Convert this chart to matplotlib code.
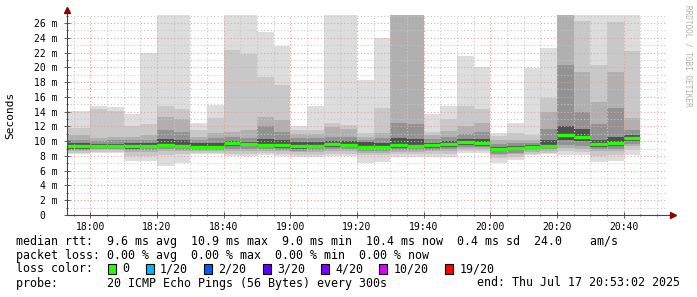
import datetime as dt
import matplotlib
matplotlib.use("Agg")
import matplotlib.pyplot as plt
import matplotlib.dates as mdates
from matplotlib.ticker import MultipleLocator
from matplotlib.patches import Rectangle

# 5 minute slots (start time), last one ends at 20:45
slots = ["17:50", "18:00", "18:05", "18:10", "18:15", "18:20", "18:25", "18:30",
         "18:35", "18:40", "18:45", "18:50", "18:55", "19:00", "19:05", "19:10",
         "19:15", "19:20", "19:25", "19:30", "19:35", "19:40", "19:45", "19:50",
         "19:55", "20:00", "20:05", "20:10", "20:15", "20:20", "20:25", "20:30",
         "20:35", "20:40"]
last_end = "20:45"

# median rtt per slot (ms)
median = [9.30, 9.30, 9.30, 9.35, 9.39, 9.48, 9.39, 9.25, 9.25, 9.70, 9.61, 9.52,
          9.43, 9.39, 9.39, 9.61, 9.52, 9.25, 9.25, 9.43, 9.39, 9.43, 9.57, 9.88,
          9.75, 8.98, 9.07, 9.16, 9.39, 10.83, 10.60, 9.61, 9.70, 10.38]

p20 = [14.1, 14.8, 14.6, 13.7, 22.0, 30, 30, 12.5, 14.9, 30, 30, 24.8, 22.9, 12.0, 14.8, 30, 30,
       18.3, 23.9, 30, 30, 13.7, 14.8, 21.5, 20.1, 11.1, 12.5, 19.95, 22.65, 30, 30, 30, 30, 30]
p19 = [11.8, 14.4, 14.1, 12.0, 12.3, 14.7, 14.4, 11.5, 13.2, 22.3, 21.8, 18.7, 17.6, 11.5, 11.5, 12.4, 12.2,
       11.1, 14.5, 30, 30, 11.3, 13.0, 14.8, 14.3, 10.7, 11.1, 10.8, 15.8, 30, 26.3, 20.3, 26.1, 22.2]
p17 = [10.8, 10.4, 10.6, 10.5, 10.8, 13.3, 13.0, 10.6, 11.1, 11.3, 11.5, 13.3, 12.9, 11.0, 10.9, 11.9, 11.6,
       10.6, 11.1, 30, 30, 10.8, 11.4, 12.0, 12.5, 10.1, 10.2, 10.2, 13.9, 30, 19.3, 15.3, 19.4, 13.1]
p15 = [10.15, 10.0, 10.1, 10.1, 10.2, 11.5, 11.3, 10.1, 10.4, 10.5, 10.4, 12.0, 11.2, 10.4, 10.4, 10.6, 10.6,
       10.2, 10.4, 12.5, 12.3, 10.3, 10.6, 11.0, 11.2, 9.6, 9.7, 9.8, 11.6, 20.3, 14.0, 12.3, 14.5, 11.5]
p12 = [9.7, 9.6, 9.65, 9.7, 9.8, 10.3, 10.2, 9.7, 9.8, 10.0, 9.9, 10.3, 10.2, 9.9, 9.9, 10.0, 10.0,
       9.85, 9.8, 10.4, 10.3, 9.8, 10.0, 10.3, 10.3, 9.25, 9.35, 9.45, 10.2, 12.0, 11.6, 10.2, 10.5, 10.8]
p9 = [9.0, 9.05, 9.05, 9.0, 9.1, 9.2, 9.1, 8.95, 8.95, 9.3, 9.3, 9.2, 9.1, 9.0, 9.05, 9.2, 9.2,
      8.95, 8.95, 9.1, 9.1, 9.1, 9.25, 9.5, 9.4, 8.6, 8.75, 8.95, 9.1, 10.2, 10.0, 9.2, 9.3, 10.0]
p6 = [8.85, 8.9, 8.9, 8.8, 8.8, 8.9, 8.85, 8.8, 8.8, 8.9, 8.9, 8.9, 8.85, 8.7, 8.75, 8.95, 8.95,
      8.7, 8.7, 8.8, 8.8, 8.85, 9.0, 9.2, 9.15, 8.3, 8.45, 8.75, 8.9, 9.5, 9.4, 8.9, 9.0, 9.6]
p4 = [8.7, 8.75, 8.75, 8.5, 8.5, 8.6, 8.6, 8.65, 8.65, 8.6, 8.6, 8.7, 8.6, 8.5, 8.5, 8.6, 8.6,
      8.4, 8.4, 8.5, 8.5, 8.6, 8.7, 9.0, 8.9, 8.1, 8.2, 8.55, 8.7, 9.1, 9.0, 8.6, 8.7, 9.3]
p2 = [8.45, 8.55, 8.55, 8.0, 8.0, 8.1, 8.2, 8.45, 8.45, 8.2, 8.2, 8.4, 8.3, 8.1, 8.1, 8.3, 8.3,
      8.1, 8.1, 8.2, 8.2, 8.2, 8.3, 8.7, 8.6, 7.7, 7.9, 8.3, 8.45, 8.6, 8.5, 8.0, 8.1, 8.8]
p1 = [8.25, 8.4, 8.35, 7.35, 7.35, 6.7, 7.0, 8.25, 8.25, 7.95, 8.0, 8.1, 7.95, 7.8, 7.85, 8.05, 8.05,
      7.0, 7.2, 7.9, 7.9, 7.8, 7.8, 8.4, 8.35, 7.08, 7.5, 8.1, 8.25, 8.1, 8.1, 7.2, 7.3, 8.1]

ytick_labels = ["0  ", "2 m", "4 m", "6 m", "8 m", "10 m", "12 m", "14 m",
                "16 m", "18 m", "20 m", "22 m", "24 m", "26 m"]

loss_labels = ["0", "1/20", "2/20", "3/20", "4/20", "10/20", "19/20"]
loss_colors = ["#26ff00", "#00b8ff", "#0059ff", "#5e00ff", "#7e00ff", "#dd00ff", "#ff0000"]

stats_lines = [
    "median rtt:  9.6 ms avg  10.9 ms max  9.0 ms min  10.4 ms now  0.4 ms sd  24.0    am/s",
    "packet loss: 0.00 % avg  0.00 % max  0.00 % min  0.00 % now",
    "loss color:",
    "probe:       20 ICMP Echo Pings (56 Bytes) every 300s",
]
end_text = "end: Thu Jul 17 20:53:02 2025"
t_end = dt.datetime(2025, 7, 17, 20, 53, 2)

MONO = "DejaVu Sans Mono"
plt.rcParams["font.family"] = MONO

day = dt.datetime(2025, 7, 17)
def hm(s):
    h, m = s.split(":")
    return day + dt.timedelta(hours=int(h), minutes=int(m))

x0 = mdates.date2num([hm(s) for s in slots])
x1 = mdates.date2num([hm(s) for s in slots[1:]] + [hm(last_end)])
w = x1 - x0

W, H = 697, 297
fig = plt.figure(figsize=(W / 100, H / 100), dpi=100)
ax = fig.add_axes([67 / W, 1 - 215 / H, 600 / W, 200 / H])

# smoke: nested bands between pings, lighter outside
bands = [(p1, p20, "#dddddd"), (p2, p19, "#c8c8c8"), (p4, p17, "#b0b0b0"),
         (p6, p15, "#929292"), (p9, p12, "#505050")]
for lo, hi, col in bands:
    ax.bar(x0, [h - l for l, h in zip(lo, hi)], width=w, bottom=lo, align="edge",
           color=col, linewidth=0, zorder=1)

ax.hlines(median, x0, x1, colors=loss_colors[0], linewidth=2.4, zorder=4)

ax.set_xlim(mdates.date2num(t_end - dt.timedelta(hours=3)), mdates.date2num(t_end))
ax.set_ylim(0, 27.08)

ax.xaxis.set_major_locator(mdates.MinuteLocator(byminute=[0, 20, 40]))
ax.xaxis.set_minor_locator(mdates.MinuteLocator(byminute=range(0, 60, 5)))
ax.xaxis.set_major_formatter(mdates.DateFormatter("%H:%M"))
ax.yaxis.set_major_locator(MultipleLocator(2))
ax.yaxis.set_minor_locator(MultipleLocator(1))
ax.set_yticks(range(0, 27, 2))
ax.set_yticklabels(ytick_labels)

ax.set_axisbelow(False)
ax.grid(which="major", color="#e8a0a0", linestyle=(0, (1, 2)), linewidth=0.8, zorder=2)
ax.grid(which="minor", color="#c8c8c8", linestyle=(0, (1, 2)), linewidth=0.8, zorder=2)

ax.tick_params(which="both", direction="inout", color="#444444", labelsize=7, width=0.6)
ax.tick_params(axis="y", which="major", length=4, pad=5)
ax.tick_params(axis="y", which="minor", length=2)
ax.tick_params(axis="x", which="major", length=4, pad=3)
ax.tick_params(axis="x", which="minor", length=2)
ax.set_ylabel("Seconds", fontsize=8, labelpad=13)

for s in ax.spines.values():
    s.set_visible(False)
ax.patch.set_visible(False)
ax.plot([0, 1.01], [0, 0], transform=ax.transAxes, color="#444444", lw=0.8, clip_on=False, zorder=5)
ax.plot([0, 0], [0, 1.02], transform=ax.transAxes, color="#444444", lw=0.8, clip_on=False, zorder=5)
ax.plot([1.01], [0], marker=">", ms=4, color="#880000", transform=ax.transAxes, clip_on=False, zorder=6)
ax.plot([0], [1.025], marker="^", ms=4, color="#880000", transform=ax.transAxes, clip_on=False, zorder=6)

# legend area in pixel coordinates
ov = fig.add_axes([0, 0, 1, 1])
ov.set_xlim(0, W)
ov.set_ylim(H, 0)
ov.axis("off")

cw = 7.03
for i, line in enumerate(stats_lines):
    ov.text(16, 241 + 14 * i, line, fontsize=8.4, va="center", ha="left", color="black")
ov.text(680, 283, end_text, fontsize=8.4, va="center", ha="right", color="black")

sx = 108.4
for lab, col in zip(loss_labels, loss_colors):
    ov.add_patch(Rectangle((sx, 264), 8, 10, facecolor=col, edgecolor="black", linewidth=0.8))
    tx = sx + 14.3
    ov.text(tx, 269, lab, fontsize=8.4, va="center", ha="left")
    sx = tx + len(lab) * cw + 16

ov.text(688, 5, "RRDTOOL / TOBI OETIKER", fontsize=5.6, rotation=-90, color="#b0b0b0",
        va="top", ha="center")

fig.savefig("out.png", dpi=100, facecolor="white")
